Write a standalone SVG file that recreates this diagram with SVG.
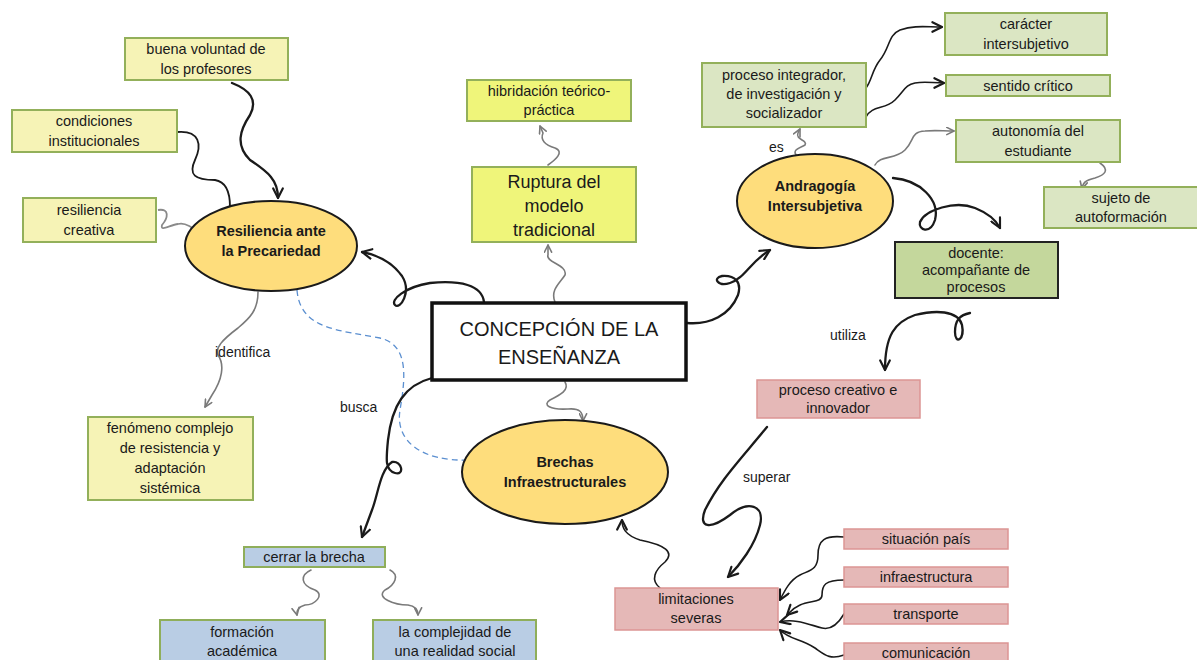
<svg xmlns="http://www.w3.org/2000/svg" width="1197" height="660" viewBox="0 0 1197 660">
<style>
  text { font-family: "Liberation Sans", "DejaVu Sans", sans-serif; fill: #1a1a1a; text-anchor: middle; }
  .t { font-size: 14.5px; }
  .big { font-size: 18px; }
  .main { font-size: 20px; }
  .ell { font-size: 14.5px; font-weight: bold; }
  .lbl { font-size: 14px; text-anchor: start; }
  .py { fill: #f6f3b6; stroke: #93b05a; stroke-width: 2; }
  .by { fill: #eff57a; stroke: #93b05a; stroke-width: 2; }
  .pg { fill: #dbe6c3; stroke: #93b05a; stroke-width: 2; }
  .dg { fill: #c4d79c; stroke: #222; stroke-width: 2; }
  .pk { fill: #e5b8b7; stroke: #dc9594; stroke-width: 1.5; }
  .bl { fill: #b9cde4; stroke: #8fae5a; stroke-width: 2; }
  .el { fill: #fedd7c; stroke: #1a1a1a; stroke-width: 2; }
  .cb { fill: none; stroke: #1a1a1a; stroke-width: 2.3; stroke-linecap: round; marker-end: url(#ab); }
  .cn { fill: none; stroke: #1a1a1a; stroke-width: 1.6; stroke-linecap: round; marker-end: url(#ab); }
  .cg { fill: none; stroke: #7a7a7a; stroke-width: 1.6; stroke-linecap: round; marker-end: url(#ag); }
  .dash { fill: none; stroke: #5b8fd0; stroke-width: 1.3; stroke-dasharray: 6 4; }
</style>
<defs>
  <marker id="ab" viewBox="0 0 10 10" refX="9" refY="5" markerWidth="12" markerHeight="12" markerUnits="userSpaceOnUse" orient="auto">
    <path d="M1,1 L9,5 L1,9" fill="none" stroke="#1a1a1a" stroke-width="1.8" stroke-linecap="round" stroke-linejoin="round"/>
  </marker>
  <marker id="ag" viewBox="0 0 10 10" refX="9" refY="5" markerWidth="9" markerHeight="9" markerUnits="userSpaceOnUse" orient="auto">
    <path d="M1,1 L9,5 L1,9" fill="none" stroke="#7a7a7a" stroke-width="1.8" stroke-linecap="round" stroke-linejoin="round"/>
  </marker>
</defs>

<g id="connectors">
  <path class="cb" d="M232,83 C250,90 258,100 250,115 C240,130 235,145 250,160 C268,172 278,180 278,198"/>
  <path fill="none" stroke="#1a1a1a" stroke-width="1.8" d="M177,132 C200,130 202,145 195,160 C188,175 195,180 215,180 C228,182 230,195 230,207"/>
  <path fill="none" stroke="#8a8a8a" stroke-width="1.8" d="M158,210 C170,208 168,218 162,225 C160,232 170,225 178,224 C185,222 188,226 193,228"/>
  <path class="cb" d="M484,302 C482,285 460,280 430,283 C405,287 390,300 395,305 C400,310 412,292 402,276 C392,262 377,255 362,252"/>
  <path class="cg" d="M258,292 C258,310 250,318 238,328 C222,340 215,348 218,355 C225,365 222,380 212,395 L205,407"/>
  <path class="dash" d="M297,290 C300,330 340,330 380,338 C410,345 405,380 400,410 C395,440 420,462 470,460"/>
  <path class="cb" d="M432,378 C405,385 392,405 388,440 C386,460 385,470 395,473 C405,476 402,460 392,462 C380,470 378,495 372,510 L362,537"/>
  <path class="cg" d="M548,165 C555,160 565,152 555,148 C545,145 540,140 543,133 L540,126"/>
  <path class="cg" d="M555,302 C550,290 560,283 565,275 C568,265 545,262 548,255 L548,245"/>
  <path class="cg" d="M565,382 C570,390 560,395 550,400 C542,405 550,410 568,409 C580,408 583,412 583,421"/>
  <path class="cb" d="M687,323 C710,325 730,315 738,295 C742,282 735,275 722,276 C712,278 718,287 730,283 C745,278 750,262 770,250"/>
  <path class="cg" d="M798,157 C790,150 800,148 805,145 C808,140 795,140 798,133 L800,129"/>
  <path class="cn" d="M866,88 C872,80 872,70 880,60 C890,48 888,35 900,30 C915,25 925,27 942,27"/>
  <path class="cn" d="M866,117 C872,105 885,110 895,100 C905,90 905,85 915,83 C925,81 932,83 944,83"/>
  <path class="cg" d="M875,165 C880,155 895,160 905,150 C915,140 910,132 925,131 C935,130 943,131 954,131"/>
  <path class="cg" d="M1100,163 C1110,170 1105,175 1095,178 C1082,181 1083,185 1082,189"/>
  <path class="cb" d="M893,178 C920,180 940,200 935,220 C930,235 918,230 920,222 C925,210 955,200 975,208 C990,214 997,222 1000,228"/>
  <path class="cb" d="M970,313 C960,315 955,320 955,332 C955,345 965,340 962,325 C958,310 935,310 915,315 C895,322 885,335 885,370"/>
  <path class="cb" d="M767,427 C740,460 720,480 705,510 C698,528 710,530 730,515 C748,500 765,505 760,525 C755,545 740,565 728,577"/>
  <path class="cn" d="M660,588 C650,580 655,570 665,562 C675,552 665,545 640,540 C625,535 622,528 622,520"/>
  <path class="cn" d="M844,537 C825,535 818,540 818,555 C818,570 810,570 800,575 C790,580 785,590 780,600"/>
  <path class="cn" d="M844,580 C825,580 822,585 822,595 C822,603 810,600 800,605 C793,608 790,612 787,615"/>
  <path class="cn" d="M844,614 C838,624 830,630 822,628 C810,625 795,618 780,622"/>
  <path class="cn" d="M844,655 C830,660 825,655 815,648 C800,638 790,640 780,630"/>
  <path class="cg" d="M311,570 C300,575 300,585 315,590 C325,595 315,605 305,605 C298,607 296,610 297,615"/>
  <path class="cg" d="M390,570 C400,575 395,585 385,590 C375,598 395,605 408,605 C415,606 418,610 418,615"/>
  <text class="lbl" x="215" y="357">identifica</text>
  <text class="lbl" x="340" y="412">busca</text>
  <text class="lbl" x="769" y="152">es</text>
  <text class="lbl" x="830" y="340">utiliza</text>
  <text class="lbl" x="743" y="482">superar</text>
</g>

<g id="n-buena"><rect class="py" x="125" y="38" width="163" height="42"/><text class="t" x="206" y="54">buena voluntad de</text><text class="t" x="206" y="74">los profesores</text></g>
<g id="n-condiciones"><rect class="py" x="12" y="110" width="165" height="42"/><text class="t" x="94" y="126">condiciones</text><text class="t" x="94" y="146">institucionales</text></g>
<g id="n-resiliencia-creativa"><rect class="py" x="23" y="198" width="133" height="44"/><text class="t" x="89" y="215">resiliencia</text><text class="t" x="89" y="235">creativa</text></g>
<g id="n-resiliencia"><ellipse class="el" cx="271" cy="246" rx="86" ry="45"/><text class="ell" x="271" y="236">Resiliencia ante</text><text class="ell" x="271" y="256">la Precariedad</text></g>
<g id="n-hibridacion"><rect class="by" x="467" y="80" width="164" height="41"/><text class="t" x="549" y="96">hibridación teórico-</text><text class="t" x="549" y="115">práctica</text></g>
<g id="n-ruptura"><rect class="by" x="472" y="167" width="164" height="75"/><text class="big" x="554" y="188">Ruptura del</text><text class="big" x="554" y="212">modelo</text><text class="big" x="554" y="236">tradicional</text></g>
<g id="n-proceso-integrador"><rect class="pg" x="702" y="63" width="164" height="64"/><text class="t" x="784" y="80">proceso integrador,</text><text class="t" x="784" y="99">de investigación y</text><text class="t" x="784" y="118">socializador</text></g>
<g id="n-caracter"><rect class="pg" x="945" y="13" width="162" height="42"/><text class="t" x="1026" y="29">carácter</text><text class="t" x="1026" y="49">intersubjetivo</text></g>
<g id="n-sentido"><rect class="pg" x="946" y="75" width="164" height="21"/><text class="t" x="1028" y="91">sentido crítico</text></g>
<g id="n-autonomia"><rect class="pg" x="956" y="120" width="164" height="42"/><text class="t" x="1038" y="136">autonomía del</text><text class="t" x="1038" y="156">estudiante</text></g>
<g id="n-sujeto"><rect class="pg" x="1044" y="187" width="160" height="41"/><text class="t" x="1121" y="203">sujeto de</text><text class="t" x="1121" y="222">autoformación</text></g>
<g id="n-andragogia"><ellipse class="el" cx="815" cy="201" rx="78" ry="47"/><text class="ell" x="815" y="191">Andragogía</text><text class="ell" x="815" y="211">Intersubjetiva</text></g>
<g id="n-docente"><rect class="dg" x="895" y="242" width="163" height="56"/><text class="t" x="976" y="258">docente:</text><text class="t" x="976" y="275">acompañante de</text><text class="t" x="976" y="292">procesos</text></g>
<g id="n-concepcion"><rect x="432" y="303" width="254" height="77" fill="#fff" stroke="#111" stroke-width="3.5"/><text class="main" x="559" y="336">CONCEPCIÓN DE LA</text><text class="main" x="559" y="364">ENSEÑANZA</text></g>
<g id="n-proceso-creativo"><rect class="pk" x="757" y="380" width="163" height="38"/><text class="t" x="838" y="395">proceso creativo e</text><text class="t" x="838" y="413">innovador</text></g>
<g id="n-brechas"><ellipse class="el" cx="565" cy="472" rx="103" ry="52"/><text class="ell" x="565" y="467">Brechas</text><text class="ell" x="565" y="487">Infraestructurales</text></g>
<g id="n-fenomeno"><rect class="py" x="88" y="417" width="165" height="83"/><text class="t" x="170" y="433">fenómeno complejo</text><text class="t" x="170" y="453">de resistencia y</text><text class="t" x="170" y="473">adaptación</text><text class="t" x="170" y="493">sistémica</text></g>
<g id="n-cerrar"><rect class="bl" x="244" y="547" width="141" height="20"/><text class="t" x="314" y="562">cerrar la brecha</text></g>
<g id="n-formacion"><rect class="bl" x="160" y="620" width="165" height="50"/><text class="t" x="242" y="637">formación</text><text class="t" x="242" y="656">académica</text></g>
<g id="n-complejidad"><rect class="bl" x="373" y="620" width="163" height="50"/><text class="t" x="455" y="637">la complejidad de</text><text class="t" x="455" y="656">una realidad social</text></g>
<g id="n-limitaciones"><rect class="pk" x="615" y="588" width="163" height="42"/><text class="t" x="696" y="604">limitaciones</text><text class="t" x="696" y="623">severas</text></g>
<g id="n-situacion"><rect class="pk" x="844" y="529" width="164" height="20"/><text class="t" x="926" y="544">situación país</text></g>
<g id="n-infraestructura"><rect class="pk" x="844" y="567" width="164" height="20"/><text class="t" x="926" y="582">infraestructura</text></g>
<g id="n-transporte"><rect class="pk" x="844" y="604" width="164" height="20"/><text class="t" x="926" y="619">transporte</text></g>
<g id="n-comunicacion"><rect class="pk" x="844" y="643" width="164" height="25"/><text class="t" x="926" y="658">comunicación</text></g>
</svg>
